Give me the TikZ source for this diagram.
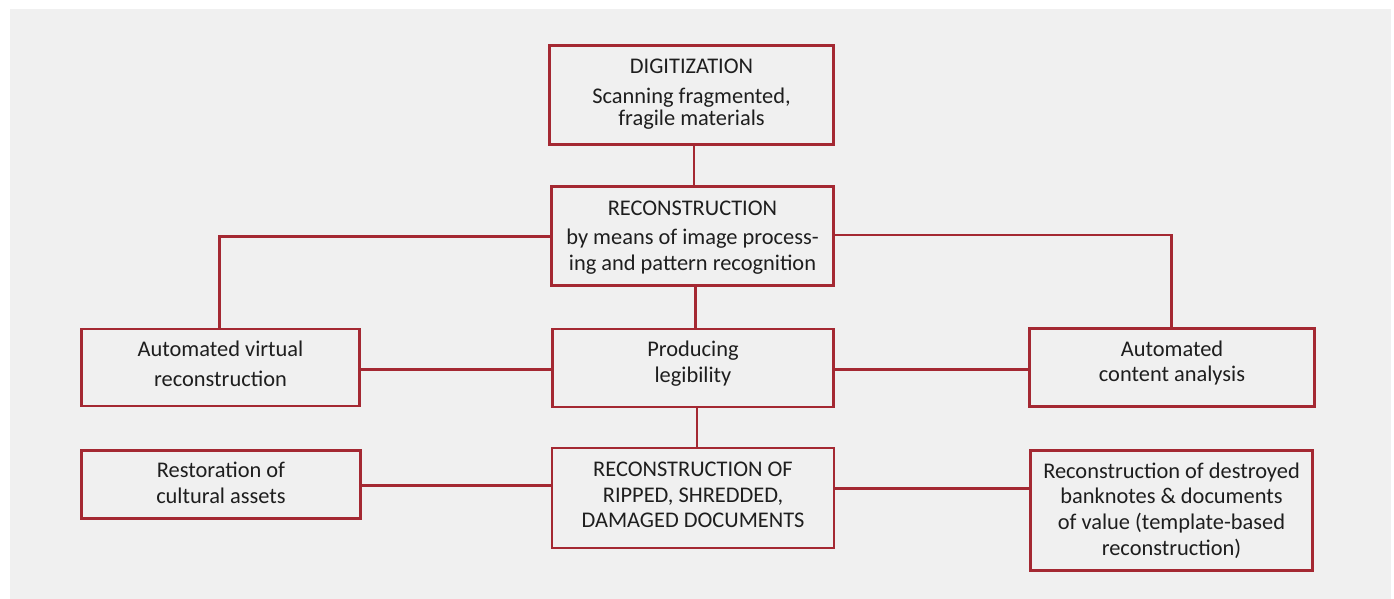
\documentclass[tikz,border=0pt]{standalone}
\usepackage{fontspec}
\setmainfont{Carlito}
\definecolor{bordred}{RGB}{164,40,50}
\definecolor{bggray}{RGB}{240,240,240}
\definecolor{txtcol}{RGB}{30,30,30}
\begin{document}
\begin{tikzpicture}[x=1pt,y=-1pt,
  box/.style={draw=bordred, line width=2.8pt, inner sep=0pt},
  link/.style={draw=bordred, line width=2.8pt},
  txt/.style={anchor=base, inner sep=0pt, text=txtcol, font=\fontsize{22.4}{26}\selectfont}]
\useasboundingbox (0,0) rectangle (1394,599);
\fill[white] (0,0) rectangle (1394,599);
\fill[bggray] (10,9) rectangle (1391,599);

% boxes
\node[box, minimum width=284pt, minimum height=99pt] (dig) at (691.5,95) {};
\node[box, minimum width=282pt, minimum height=99pt] (rec) at (692.5,236) {};
\node[box, minimum width=281pt, minimum height=78pt] (prod) at (693,368) {};
\node[box, minimum width=278pt, minimum height=77pt] (avr) at (220.5,367.5) {};
\node[box, minimum width=285pt, minimum height=78pt] (aca) at (1172,367.3) {};
\node[box, minimum width=279pt, minimum height=68pt] (rest) at (221,484.3) {};
\node[box, minimum width=282pt, minimum height=100pt] (rip) at (693,498) {};
\node[box, minimum width=282pt, minimum height=120pt] (des) at (1171.5,510.5) {};

% helper coordinates for connector positions
\coordinate (c1) at (694,0);
\coordinate (c2) at (695.5,0);
\coordinate (c3) at (697,0);
\coordinate (hl) at (0,236.7);
\coordinate (hr) at (0,235);
\coordinate (vl) at (219.3,0);
\coordinate (vr) at (1171.7,0);
\coordinate (hm) at (0,369.3);
\coordinate (hb1) at (0,485.5);
\coordinate (hb2) at (0,488.3);

% connectors
\draw[link] (dig.south -| c1) -- (rec.north -| c1);
\draw[link] (rec.south -| c2) -- (prod.north -| c2);
\draw[link] (prod.south -| c3) -- (rip.north -| c3);
\draw[link] (rec.west |- hl) -| (avr.north -| vl);
\draw[link] (rec.east |- hr) -| (aca.north -| vr);
\draw[link] (prod.west |- hm) -- (avr.east |- hm);
\draw[link] (prod.east |- hm) -- (aca.west |- hm);
\draw[link] (rip.west |- hb1) -- (rest.east |- hb1);
\draw[link] (rip.east |- hb2) -- (des.west |- hb2);

% texts
\node[txt] (t1a) at (691.5,73.3) {DIGITIZATION};
\node[txt] (t1b) at (691.5,104) {Scanning fragmented,};
\node[txt] (t1c) at (691.5,125.5) {fragile materials};

\node[txt] (t2a) at (692.5,215) {RECONSTRUCTION};
\node[txt] (t2b) at (692.5,244) {by means of image process-};
\node[txt] (t2c) at (692.5,270) {ing and pattern recognition};

\node[txt] (t3a) at (693,356.7) {Producing};
\node[txt] (t3b) at (693,382.7) {legibility};

\node[txt] (t4a) at (220.5,356.7) {Automated virtual};
\node[txt] (t4b) at (220.5,386) {reconstruction};

\node[txt] (t5a) at (1172,356) {Automated};
\node[txt] (t5b) at (1172,381.7) {content analysis};

\node[txt] (t6a) at (221,477.7) {Restoration of};
\node[txt] (t6b) at (221,503) {cultural assets};

\node[txt] (t7a) at (693,476) {RECONSTRUCTION OF};
\node[txt] (t7b) at (693,502) {RIPPED, SHREDDED,};
\node[txt] (t7c) at (693,527.3) {DAMAGED DOCUMENTS};

\node[txt] (t8a) at (1171.5,478.3) {Reconstruction of destroyed};
\node[txt] (t8b) at (1171.5,503.3) {banknotes \& documents};
\node[txt] (t8c) at (1171.5,529) {of value (template-based};
\node[txt] (t8d) at (1171.5,555) {reconstruction)};
\end{tikzpicture}
\end{document}
